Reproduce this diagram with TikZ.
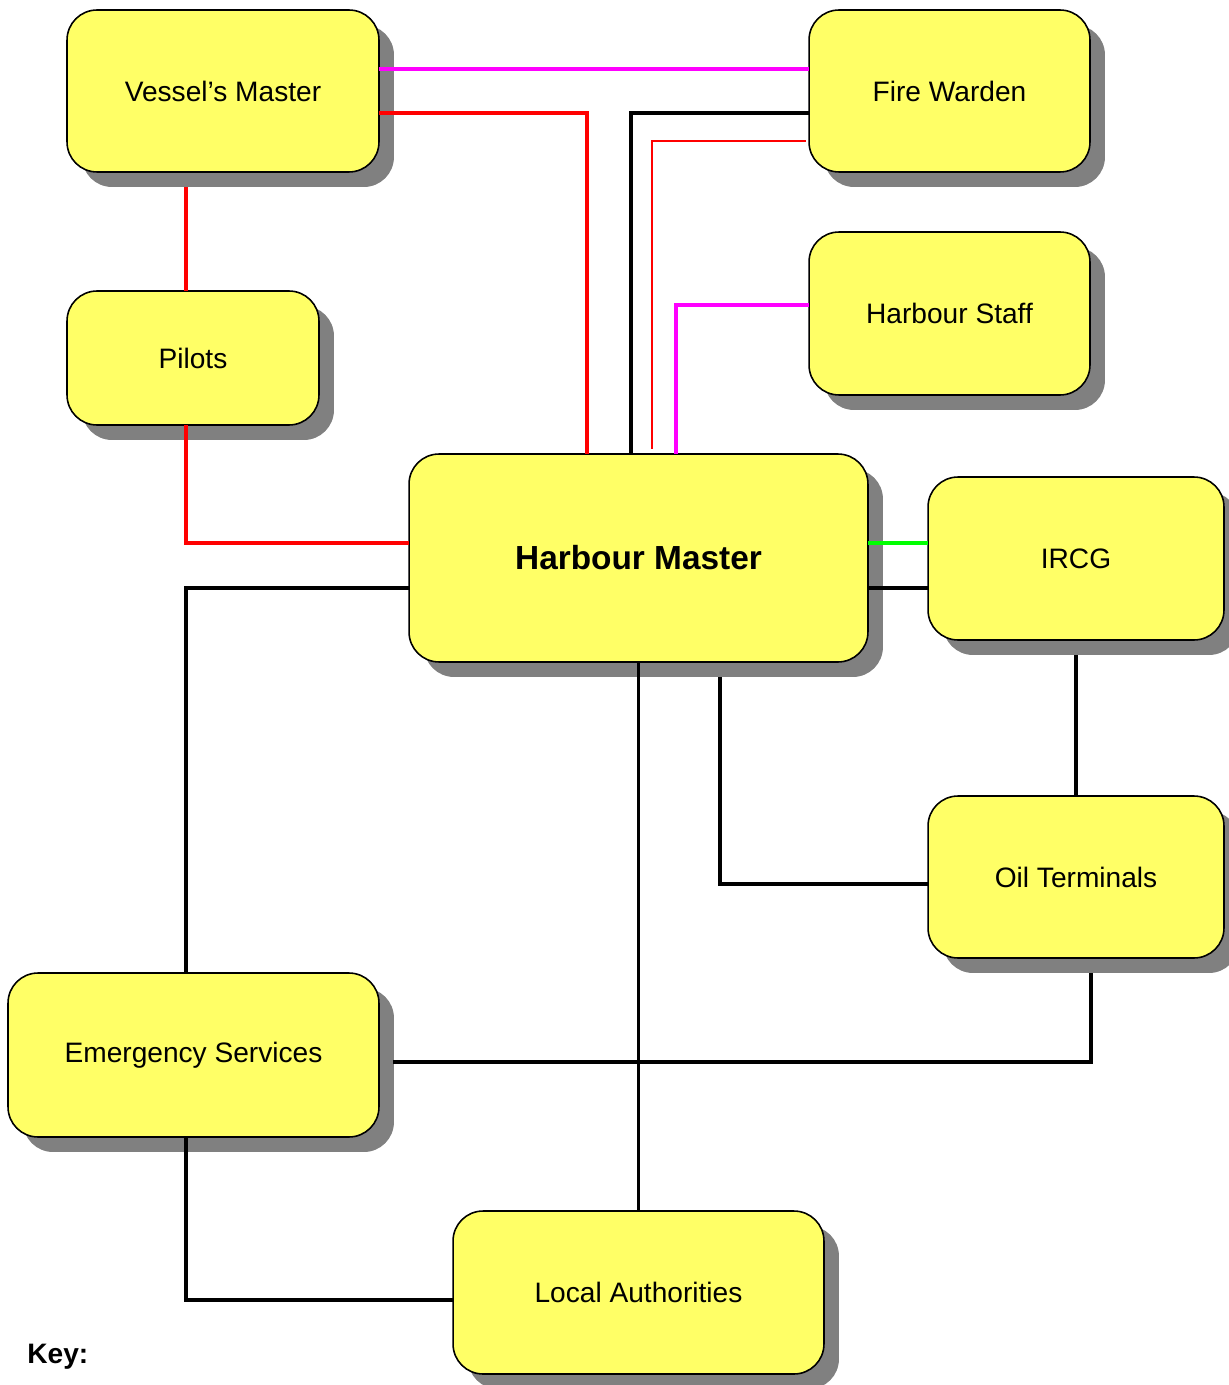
\documentclass[tikz,border=0pt]{standalone}
\usepackage{fontspec}
\setmainfont{Liberation Sans}
\usetikzlibrary{calc,shadows}
\definecolor{boxfill}{HTML}{FFFF66}
\definecolor{shade}{HTML}{808080}
\definecolor{mag}{HTML}{FF00FF}
\definecolor{grn}{HTML}{00FF00}
\begin{document}
\begin{tikzpicture}[x=0.02cm,y=-0.02cm,
  boxst/.style={draw=black,line width=0.9pt,fill=boxfill,rounded corners=0.6cm,
    inner sep=0pt,outer sep=0pt,font=\fontsize{16}{19}\selectfont,
    drop shadow={shadow xshift=0.3cm,shadow yshift=-0.3cm,fill=shade,opacity=1}},
  conn/.style={line width=2.2pt},
  thinconn/.style={line width=1pt}]
\useasboundingbox (0,0) rectangle (1229,1385);
% boxes
\node[boxst,minimum width=6.24cm,minimum height=3.24cm] (vm) at (223,91) {Vessel’s Master};
\node[boxst,minimum width=5.62cm,minimum height=3.24cm] (fw) at (949.5,91) {Fire Warden};
\node[boxst,minimum width=5.62cm,minimum height=3.26cm] (hs) at (949.5,313.5) {Harbour Staff};
\node[boxst,minimum width=5.04cm,minimum height=2.68cm] (pl) at (193,358) {Pilots};
\node[boxst,minimum width=9.18cm,minimum height=4.16cm,font=\fontsize{19}{23}\selectfont\bfseries] (hm) at (638.5,558) {Harbour Master};
\node[boxst,minimum width=5.92cm,minimum height=3.26cm] (ir) at (1076,558.5) {IRCG};
\node[boxst,minimum width=5.92cm,minimum height=3.24cm] (ot) at (1076,877) {Oil Terminals};
\node[boxst,minimum width=7.42cm,minimum height=3.28cm] (es) at (193.5,1055) {Emergency Services};
\node[boxst,minimum width=7.42cm,minimum height=3.26cm] (la) at (638.5,1292.5) {Local Authorities};
\node[font=\fontsize{16}{19}\selectfont\bfseries,anchor=west,inner sep=0pt] (key) at (27,1357) {Key:};
% connectors
\draw[conn,mag] ($(vm.east)+(0,-22)$) -- ($(fw.west)+(0,-22)$);
\draw[conn,red] ($(vm.east)+(0,22)$) -| ($(hm.north)+(-51.5,0)$);
\draw[conn,black] ($(fw.west)+(0,22)$) -| ($(hm.north)+(-7.5,0)$);
\draw[thinconn,red] ($(fw.west)+(-3,50)$) -| ($(hm.north)+(13.5,-5)$);
\draw[conn,mag] ($(hs.west)+(0,-8.5)$) -| ($(hm.north)+(37.5,0)$);
\draw[conn,red] ($(vm.south)+(-37,15)$) -- ($(pl.north)+(-7,0)$);
\draw[conn,red] ($(pl.south)+(-7,0)$) |- ($(hm.west)+(0,-15)$);
\draw[conn,black] ($(hm.west)+(0,30)$) -| ($(es.north)+(-7.5,0)$);
\draw[conn,grn] ($(hm.east)+(0,-15)$) -- ($(ir.west |- hm.east)+(0,-15)$);
\draw[conn,black] ($(hm.east)+(0,30)$) -- ($(ir.west |- hm.east)+(0,30)$);
\draw[conn,black] ($(ir.south)+(0,15)$) -- (ot.north);
\draw[conn,black] ($(hm.south)+(81.5,15)$) |- ($(ot.west)+(0,7)$);
\draw[conn,black] (hm.south) -- (la.north);
\draw[conn,black] ($(ot.south)+(15,15)$) |- ($(es.east)+(14,7)$);
\draw[conn,black] ($(es.south)+(-7.5,0)$) |- ($(la.west)+(0,7.5)$);
\end{tikzpicture}
\end{document}
